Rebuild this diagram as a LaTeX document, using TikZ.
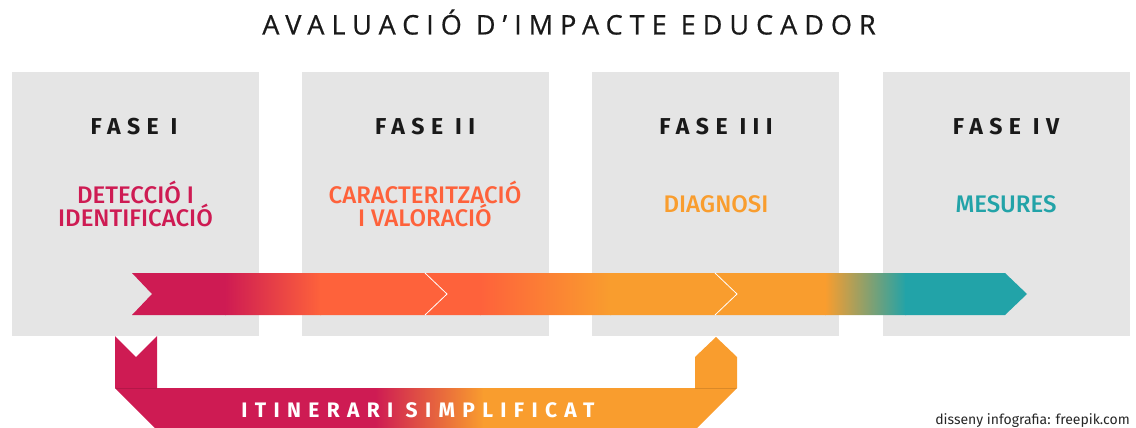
\documentclass[tikz,border=0pt]{standalone}
\usepackage{fontspec}
\setmainfont{Open Sans}
\newfontfamily\titlefont[LetterSpace=26,FakeBold=0.6]{Open Sans}
\newfontfamily\fasefont[LetterSpace=28,UprightFont=* Bold]{Fira Sans}
\newfontfamily\ribbonfont[LetterSpace=35,UprightFont=* Bold]{Fira Sans}
\newfontfamily\labfont[UprightFont=* Medium]{Fira Sans}
\newfontfamily\notefont{Fira Sans}
\definecolor{boxgray}{HTML}{E5E5E5}
\definecolor{crimson}{HTML}{CE1B53}
\definecolor{redorange}{HTML}{FE623B}
\definecolor{amber}{HTML}{F99D2E}
\definecolor{teal}{HTML}{22A3A8}
\tikzset{box/.style={fill=boxgray,minimum width=247pt,minimum height=264pt,inner sep=0pt,anchor=north west},
  titletxt/.style={anchor=base,inner sep=0pt,font=\titlefont\fontsize{27}{30}\selectfont,text=black!90},
  fasetxt/.style={anchor=base,inner sep=0pt,font=\fasefont\fontsize{23}{26}\selectfont,text=black!90},
  phasetxt/.style={anchor=base,inner sep=0pt,align=center,font=\labfont\fontsize{24}{23.5}\selectfont},
  ribbontxt/.style={anchor=base,inner sep=0pt,text=white,font=\ribbonfont\fontsize{21}{23}\selectfont},
  sep/.style={draw=white,line width=0.8pt}}

\begin{document}
\begin{tikzpicture}[x=1pt,y=-1pt]
\useasboundingbox (0,0) rectangle (1136,428);
\node[titletxt] (title) at (569,34.5) {AVALUACIÓ D’IMPACTE EDUCADOR};

\node[box] (b1) at (12,72) {};
\node[box] (b2) at (302,72) {};
\node[box] (b3) at (592,72) {};
\node[box] (b4) at (883,72) {};

\node[fasetxt] (f1) at (134,134) {FASE I};
\node[fasetxt] (f2) at (425,134) {FASE II};
\node[fasetxt] (f3) at (716,134) {FASE III};
\node[fasetxt] (f4) at (1006,134) {FASE IV};

% the base of a two-line node is its last line
\node[phasetxt,text=crimson] (p1) at (135.5,226.5) {DETECCIÓ I\\IDENTIFICACIÓ};
\node[phasetxt,text=redorange] (p2) at (425,226.5) {CARACTERITZACIÓ\\I VALORACIÓ};
\node[phasetxt,text=amber] (p3) at (716,212) {DIAGNOSI};
\node[phasetxt,text=teal] (p4) at (1006,212) {MESURES};

% main arrow
\begin{scope}
  \clip (132,273) -- (1005,273) -- (1027,294) -- (1005,315) -- (132,315) -- (152,294) -- cycle;
  \fill[crimson] (130,270) rectangle (226,318);
  \shade[left color=crimson,right color=redorange] (225,270) rectangle (321,318);
  \fill[redorange] (320,270) rectangle (481,318);
  \shade[left color=redorange,right color=amber] (480,270) rectangle (611,318);
  \fill[amber] (610,270) rectangle (826,318);
  \shade[left color=amber,right color=teal] (825,270) rectangle (906,318);
  \fill[teal] (905,270) rectangle (1030,318);
\end{scope}
\draw[sep] (425,273) -- (447,294) -- (425,315);
\draw[sep] (715,273) -- (737,294) -- (715,315);

% itinerari simplificat
\begin{scope}
  \clip (115,336) -- (136,357) -- (157,336) -- (157,388) -- (695,388) -- (695,357) -- (716,337)
    -- (737,357) -- (737,388) -- (697,428) -- (155,428) -- (115,388) -- cycle;
  \fill[crimson] (110,330) rectangle (376,430);
  \shade[left color=crimson,right color=amber] (375,330) rectangle (484,430);
  \fill[amber] (483,330) rectangle (740,430);
\end{scope}
\draw[black,opacity=0.12,line width=0.6pt] (115,388) -- (157,388) (695,388) -- (737,388);
\node[ribbontxt] (itin) at (418,417) {ITINERARI SIMPLIFICAT};

\node[anchor=base east,inner sep=0pt,font=\notefont\fontsize{14}{16}\selectfont,text=black!85] (credit) at (1130,424) {disseny infografia: freepik.com};
\end{tikzpicture}
\end{document}
